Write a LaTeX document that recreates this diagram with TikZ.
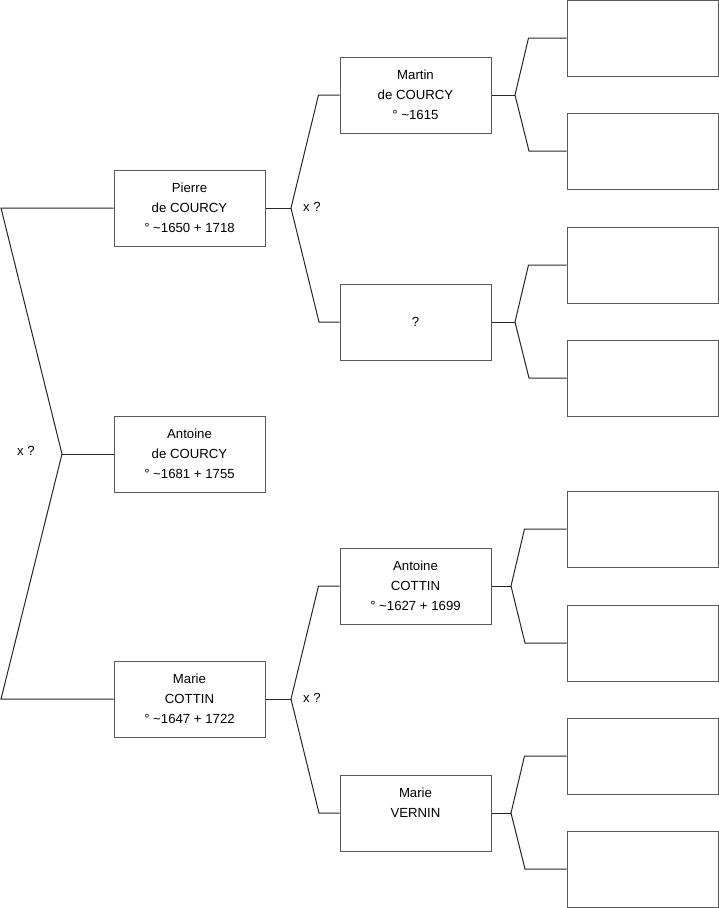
\documentclass[tikz,border=0pt]{standalone}
\usepackage{fontspec}
\setmainfont{Liberation Sans}
\begin{document}
\begin{tikzpicture}[x=1pt,y=-1pt,
  person/.style={draw=black!65,line width=1pt,fill=white,minimum width=151pt,minimum height=76pt,inner sep=0pt,align=center,font=\fontsize{13.2}{20}\selectfont,text depth=0pt},
  link/.style={draw=black!85,line width=1pt},
  lbl/.style={font=\fontsize{13.2}{16}\selectfont,inner sep=0pt}]
\useasboundingbox (0,0) rectangle (719,908);
% generation 1 and 2
\node[person] (pierre) at (189.5,208) {Pierre\\de COURCY\\° \textasciitilde1650 + 1718};
\node[person] (antoine) at (189.5,454) {Antoine\\de COURCY\\° \textasciitilde1681 + 1755};
\node[person] (marie) at (189.5,699) {Marie\\COTTIN\\° \textasciitilde1647 + 1722};
% generation 3
\node[person] (martin) at (415.5,95) {Martin\\de COURCY\\° \textasciitilde1615};
\node[person] (unk) at (415.5,322) {?};
\node[person] (acottin) at (415.5,586) {Antoine\\COTTIN\\° \textasciitilde1627 + 1699};
\node[person] (vernin) at (415.5,813) {Marie\\VERNIN\\\mbox{}};
% generation 4
\node[person] (r1) at (642.5,38) {};
\node[person] (r2) at (642.5,151) {};
\node[person] (r3) at (642.5,265) {};
\node[person] (r4) at (642.5,378) {};
\node[person] (r5) at (642.5,529) {};
\node[person] (r6) at (642.5,643) {};
\node[person] (r7) at (642.5,756) {};
\node[person] (r8) at (642.5,869) {};
% junctions
\coordinate (j0) at (62,454);
\coordinate (t0) at (1,208);
\coordinate (b0) at (1,699);
\coordinate (j1) at (291,208);
\coordinate (j2) at (291,699);
\coordinate (j3) at (515,95);
\coordinate (j4) at (515,322);
\coordinate (j5) at (511,586);
\coordinate (j6) at (511,813);
% connectors
\draw[link] (pierre.west) -- (t0) -- (j0) -- (b0) -- (marie.west);
\draw[link] (j0) -- (antoine.west);
\draw[link] (pierre.east) -- (j1);
\draw[link] (martin.west) -- ++(-21,0) -- (j1) -- (unk.west -| 319,0) -- (unk.west);
\draw[link] (marie.east) -- (j2);
\draw[link] (acottin.west) -- ++(-21,0) -- (j2) -- (vernin.west -| 319,0) -- (vernin.west);
\draw[link] (martin.east) -- (j3);
\draw[link] (r1.west) -- ++(-38,0) -- (j3) -- (r2.west -| 529,0) -- (r2.west);
\draw[link] (unk.east) -- (j4);
\draw[link] (r3.west) -- ++(-38,0) -- (j4) -- (r4.west -| 529,0) -- (r4.west);
\draw[link] (acottin.east) -- (j5);
\draw[link] (r5.west) -- ++(-42,0) -- (j5) -- (r6.west -| 525,0) -- (r6.west);
\draw[link] (vernin.east) -- (j6);
\draw[link] (r7.west) -- ++(-42,0) -- (j6) -- (r8.west -| 525,0) -- (r8.west);
% labels
\node[lbl] (x0) at (26,451) {x ?};
\node[lbl] (x1) at (312,207) {x ?};
\node[lbl] (x2) at (312,698) {x ?};
\end{tikzpicture}
\end{document}
